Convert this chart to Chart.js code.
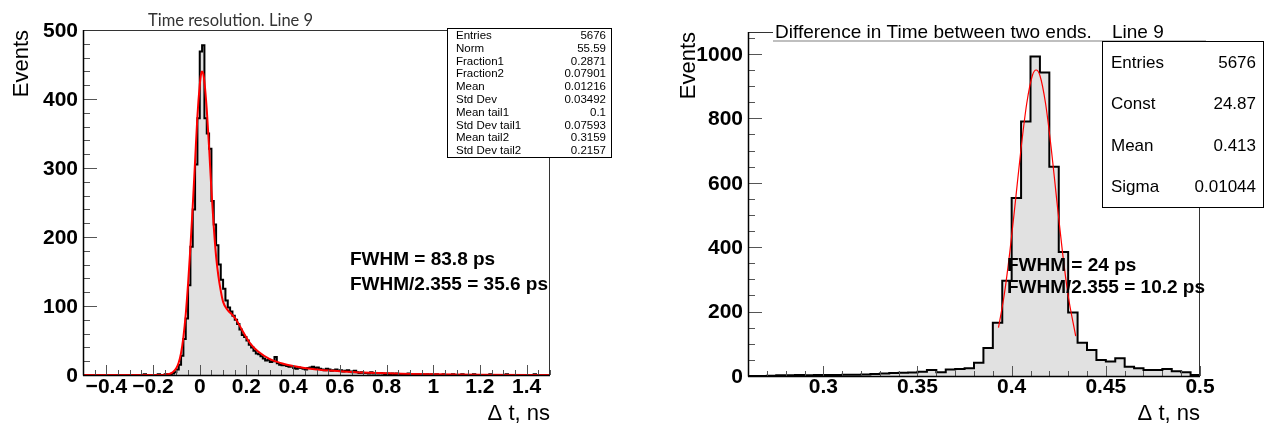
<!DOCTYPE html>
<html>
<head>
<meta charset="utf-8">
<script src="https://cdn.jsdelivr.net/npm/chart.js@4.4.0/dist/chart.umd.min.js"></script>
<style>
html, body { margin: 0; padding: 0; background: #fff; }
#wrap { position: relative; width: 1264px; height: 424px; overflow: hidden; }
.panel { position: absolute; top: 0; width: 632px; height: 424px; }
</style>
</head>
<body>
<div id="wrap">
  <div class="panel" style="left:0"><canvas id="leftChart" width="632" height="424"></canvas></div>
  <div class="panel" style="left:632px"><canvas id="rightChart" width="632" height="424"></canvas></div>
</div>
<script>
// ---- left panel: time resolution, 0.01 ns bins from -0.5 to 1.5
const leftBinStart = -0.5;
const leftBinWidth = 0.01;
const leftCounts = [
    0, 0, 0, 0, 0, 0, 0, 0, 0, 0,
    0, 0, 0, 0, 0, 0, 0, 0, 0, 0,
    0, 0, 0, 0, 0, 0, 1, 0, 0, 0,
    0, 0, 1, 0, 0, 1, 0, 1, 2, 4,
    8, 15, 28, 52, 82, 130, 186, 240, 305, 372,
    469, 478, 372, 350, 328, 252, 218, 188, 160, 138,
    125, 108, 98, 92, 86, 80, 74, 66, 58, 55,
    50, 44, 40, 35, 31, 30, 27, 24, 21, 22,
    19, 20, 26, 17, 15, 14, 14, 13, 12, 13,
    10, 9, 11, 10, 9, 8, 10, 11, 12, 10,
    11, 9, 8, 7, 9, 8, 6, 7, 8, 6,
    7, 5, 6, 7, 5, 4, 6, 4, 3, 4,
    3, 3, 2, 4, 2, 3, 2, 3, 2, 1,
    2, 1, 2, 1, 2, 1, 1, 0, 1, 2,
    1, 0, 1, 1, 0, 1, 0, 1, 0, 1,
    0, 1, 0, 0, 1, 0, 0, 0, 1, 0,
    0, 0, 1, 0, 0, 0, 0, 1, 0, 0,
    0, 0, 0, 0, 1, 0, 0, 0, 0, 0,
    0, 1, 0, 0, 0, 0, 0, 0, 0, 0,
    0, 0, 0, 1, 0, 0, 0, 0, 0, 0
];
const leftFitX = [-0.5, -0.2, -0.15, -0.13, -0.12, -0.11, -0.1, -0.09, -0.08, -0.07, -0.06, -0.05, -0.04, -0.03, -0.02, -0.01,
    0, 0.005, 0.01, 0.015, 0.02, 0.03, 0.04, 0.05, 0.06, 0.07, 0.08, 0.09, 0.1, 0.12, 0.14, 0.16, 0.18, 0.2, 0.22, 0.25,
    0.3, 0.35, 0.4, 0.5, 0.6, 0.7, 0.8, 0.9, 1.0, 1.2, 1.5];
const leftFitY = [0, 0, 0.5, 1.5, 3, 6, 10, 18, 32, 55, 88, 132, 185, 245, 310, 375,
    420, 435, 440, 437, 425, 385, 330, 268, 215, 172, 143, 122, 106, 94, 87, 78, 66, 54, 44, 34,
    23, 17, 13, 8, 5.5, 3.5, 2.5, 1.5, 1, 0.4, 0.1];
const leftXTicks = [-0.4, -0.2, 0, 0.2, 0.4, 0.6, 0.8, 1, 1.2, 1.4];
const leftXLabels = ['\u22120.4', '\u22120.2', '0', '0.2', '0.4', '0.6', '0.8', '1', '1.2', '1.4'];
const leftYTicks = [0, 100, 200, 300, 400, 500];
const leftStats = [
    ['Entries', '5676'], ['Norm', '55.59'], ['Fraction1', '0.2871'], ['Fraction2', '0.07901'],
    ['Mean', '0.01216'], ['Std Dev', '0.03492'], ['Mean tail1', '0.1'], ['Std Dev tail1', '0.07593'],
    ['Mean tail2', '0.3159'], ['Std Dev tail2', '0.2157']
];
const leftFwhm = ['FWHM = 83.8 ps', 'FWHM/2.355 = 35.6 ps'];

// ---- right panel: difference between two ends, 0.005 ns bins from 0.26 to 0.5
const rightBinStart = 0.26;
const rightBinWidth = 0.005;
const rightCounts = [
    0, 0, 1, 2, 2, 3, 2, 3,
    3, 3, 4, 4, 5, 6, 8, 9,
    10, 11, 13, 19, 12, 20, 22, 24,
    41, 87, 165, 296, 553, 790, 992, 942,
    650, 385, 197, 103, 81, 50, 45, 55,
    29, 24, 19, 19, 22, 15, 12, 3
];
const rightFitX = [0.393, 0.396, 0.399, 0.402, 0.405, 0.408, 0.411, 0.413, 0.415, 0.418, 0.421, 0.424, 0.427, 0.43, 0.434];
const rightFitY = [150, 250, 384, 543, 707, 846, 933, 950, 933, 846, 707, 543, 384, 250, 124];
const rightXTicks = [0.3, 0.35, 0.4, 0.45, 0.5];
const rightXLabels = ['0.3', '0.35', '0.4', '0.45', '0.5'];
const rightYTicks = [0, 200, 400, 600, 800, 1000];
const rightStats = [['Entries', '5676'], ['Const', '24.87'], ['Mean', '0.413'], ['Sigma', '0.01044']];
const rightFwhm = ['FWHM = 24 ps', 'FWHM/2.355 = 10.2 ps'];

const FONT = "'Liberation Sans', Arial, Helvetica, sans-serif";

// step outline points for a histogram, closed down to zero at both ends
function histPoints(start, width, counts) {
    const pts = [{ x: start, y: 0 }];
    counts.forEach((c, i) => pts.push({ x: start + i * width, y: c }));
    const end = start + counts.length * width;
    pts.push({ x: end, y: counts[counts.length - 1] });
    pts.push({ x: end, y: 0 });
    return pts;
}

function fitPoints(xs, ys) {
    return xs.map((x, i) => ({ x: x, y: ys[i] }));
}

function line(ctx, x1, y1, x2, y2) {
    ctx.beginPath();
    ctx.moveTo(x1, y1);
    ctx.lineTo(x2, y2);
    ctx.stroke();
}

// ROOT-like frame, inward ticks, labels and the text boxes
function rootDecor(cfg) {
    return {
        id: 'rootDecor',
        afterDraw(chart) {
            const ctx = chart.ctx;
            const a = chart.chartArea;
            const xs = chart.scales.x, ys = chart.scales.y;
            ctx.save();

            // minor + major ticks
            ctx.strokeStyle = '#555';
            ctx.lineWidth = 1;
            for (let v = cfg.yMinorStart; v <= ys.max + 1e-9; v += cfg.yMinorStep) {
                const py = Math.round(ys.getPixelForValue(v)) + 0.5;
                line(ctx, a.left, py, a.left + cfg.yTickLen / 2, py);
            }
            cfg.yTicks.forEach(v => {
                const py = Math.round(ys.getPixelForValue(v)) + 0.5;
                line(ctx, a.left, py, a.left + cfg.yTickLen, py);
            });
            for (let k = 0; ; k++) {
                const v = cfg.xMinorStart + k * cfg.xMinorStep;
                if (v > xs.max + 1e-9) break;
                const px = Math.round(xs.getPixelForValue(v)) + 0.5;
                line(ctx, px, a.bottom, px, a.bottom - cfg.xTickLen / 2);
            }
            cfg.xTicks.forEach(v => {
                const px = Math.round(xs.getPixelForValue(v)) + 0.5;
                line(ctx, px, a.bottom, px, a.bottom - cfg.xTickLen);
            });

            // frame
            ctx.strokeStyle = '#333';
            ctx.strokeRect(a.left + 0.5, a.top + 0.5, a.right - a.left - 1, a.bottom - a.top);
            ctx.strokeStyle = '#000';
            ctx.lineWidth = 1.5;
            line(ctx, a.left + 0.5, a.top, a.left + 0.5, a.bottom + 0.5);
            line(ctx, a.left, a.bottom + 0.5, a.right, a.bottom + 0.5);

            // tick labels
            ctx.fillStyle = '#000';
            ctx.font = 'bold 21px ' + FONT;
            ctx.textAlign = 'right';
            ctx.textBaseline = 'middle';
            cfg.yTicks.forEach(v => ctx.fillText(String(v), cfg.yLabelRight, ys.getPixelForValue(v) + 1));
            ctx.textAlign = 'center';
            ctx.textBaseline = 'alphabetic';
            cfg.xTicks.forEach((v, i) => ctx.fillText(cfg.xLabels[i], xs.getPixelForValue(v), cfg.xLabelBase));

            // axis titles
            ctx.font = '22px ' + FONT;
            ctx.textAlign = 'right';
            ctx.fillText('\u0394 t, ns', a.right, 420);
            ctx.save();
            ctx.translate(cfg.yTitleX, a.top);
            ctx.rotate(-Math.PI / 2);
            ctx.textAlign = 'right';
            ctx.fillText('Events', 0, 0);
            ctx.restore();

            // title
            if (cfg.titleBox) {
                const t = cfg.titleBox;
                ctx.fillStyle = '#fff';
                ctx.fillRect(t.x, t.y, t.w, t.h);
                ctx.strokeStyle = '#aaa';
                ctx.lineWidth = 1.5;
                line(ctx, t.x, t.y + t.h, t.x + t.w, t.y + t.h);
            }
            ctx.fillStyle = cfg.titleColor;
            ctx.font = cfg.titleFont;
            ctx.textAlign = 'left';
            cfg.title.forEach(p => ctx.fillText(p[0], p[1], p[2]));

            // FWHM text
            ctx.fillStyle = '#000';
            ctx.font = 'bold 19px ' + FONT;
            cfg.fwhm.forEach((s, i) => ctx.fillText(s, cfg.fwhmX, cfg.fwhmY[i]));

            // stats box
            const b = cfg.box;
            ctx.fillStyle = '#fff';
            ctx.fillRect(b.x, b.y, b.w, b.h);
            ctx.strokeStyle = '#000';
            ctx.lineWidth = 1;
            ctx.strokeRect(b.x + 0.5, b.y + 0.5, b.w, b.h);
            ctx.fillStyle = '#000';
            ctx.font = b.font;
            cfg.stats.forEach((r, i) => {
                const yb = b.firstBase + i * b.step;
                ctx.textAlign = 'left';
                ctx.fillText(r[0], b.x + b.padL, yb);
                ctx.textAlign = 'right';
                ctx.fillText(r[1], b.x + b.w - b.padR, yb);
            });
            ctx.restore();
        }
    };
}

function makeChart(id, opts) {
    return new Chart(document.getElementById(id), {
        type: 'line',
        data: {
            datasets: [{
                data: opts.hist,
                stepped: 'before',
                borderColor: '#000',
                borderWidth: 2,
                backgroundColor: '#e1e1e1',
                fill: 'origin',
                pointRadius: 0,
                order: 2
            }, {
                data: opts.fit,
                borderColor: '#ff0000',
                borderWidth: opts.fitWidth,
                fill: false,
                cubicInterpolationMode: 'monotone',
                pointRadius: 0,
                order: 1
            }]
        },
        options: {
            responsive: false,
            animation: false,
            layout: { padding: opts.padding },
            plugins: { legend: { display: false }, tooltip: { enabled: false } },
            scales: {
                x: { type: 'linear', min: opts.xMin, max: opts.xMax, display: false },
                y: { type: 'linear', min: 0, max: opts.yMax, display: false }
            }
        },
        plugins: [rootDecor(opts.decor)]
    });
}

makeChart('leftChart', {
    hist: histPoints(leftBinStart, leftBinWidth, leftCounts),
    fit: fitPoints(leftFitX, leftFitY),
    fitWidth: 2,
    xMin: -0.5, xMax: 1.5, yMax: 500,
    padding: { left: 83, right: 82, top: 30, bottom: 49 },
    decor: {
        yTicks: leftYTicks, yMinorStart: 0, yMinorStep: 20, yTickLen: 14,
        xTicks: leftXTicks, xLabels: leftXLabels, xMinorStart: -0.5, xMinorStep: 0.05, xTickLen: 10,
        yLabelRight: 78, xLabelBase: 393, yTitleX: 28,
        title: [['Time resolution. Line 9', 148, 26]],
        titleFont: '16.5px Lato, sans-serif', titleColor: '#333',
        fwhm: leftFwhm, fwhmX: 350, fwhmY: [265, 290],
        stats: leftStats,
        box: { x: 447, y: 28, w: 164, h: 129, font: '11.5px ' + FONT, firstBase: 39, step: 12.8, padL: 9, padR: 5 }
    }
});

makeChart('rightChart', {
    hist: histPoints(rightBinStart, rightBinWidth, rightCounts),
    fit: fitPoints(rightFitX, rightFitY),
    fitWidth: 1.2,
    xMin: 0.26, xMax: 0.5, yMax: 1068,
    padding: { left: 116, right: 64, top: 32, bottom: 48 },
    decor: {
        yTicks: rightYTicks, yMinorStart: 0, yMinorStep: 50, yTickLen: 14,
        xTicks: rightXTicks, xLabels: rightXLabels, xMinorStart: 0.26, xMinorStep: 0.01, xTickLen: 10,
        yLabelRight: 111, xLabelBase: 393, yTitleX: 63,
        title: [['Difference in Time between two ends.', 143, 38], ['Line 9', 480, 38]],
        titleBox: { x: 141, y: 8, w: 433, h: 33 },
        titleFont: '19px ' + FONT, titleColor: '#000',
        fwhm: rightFwhm, fwhmX: 375, fwhmY: [271, 293],
        stats: rightStats,
        box: { x: 470, y: 41, w: 161, h: 166, font: '17px ' + FONT, firstBase: 68, step: 41.3, padL: 9, padR: 7 }
    }
});
</script>
</body>
</html>
